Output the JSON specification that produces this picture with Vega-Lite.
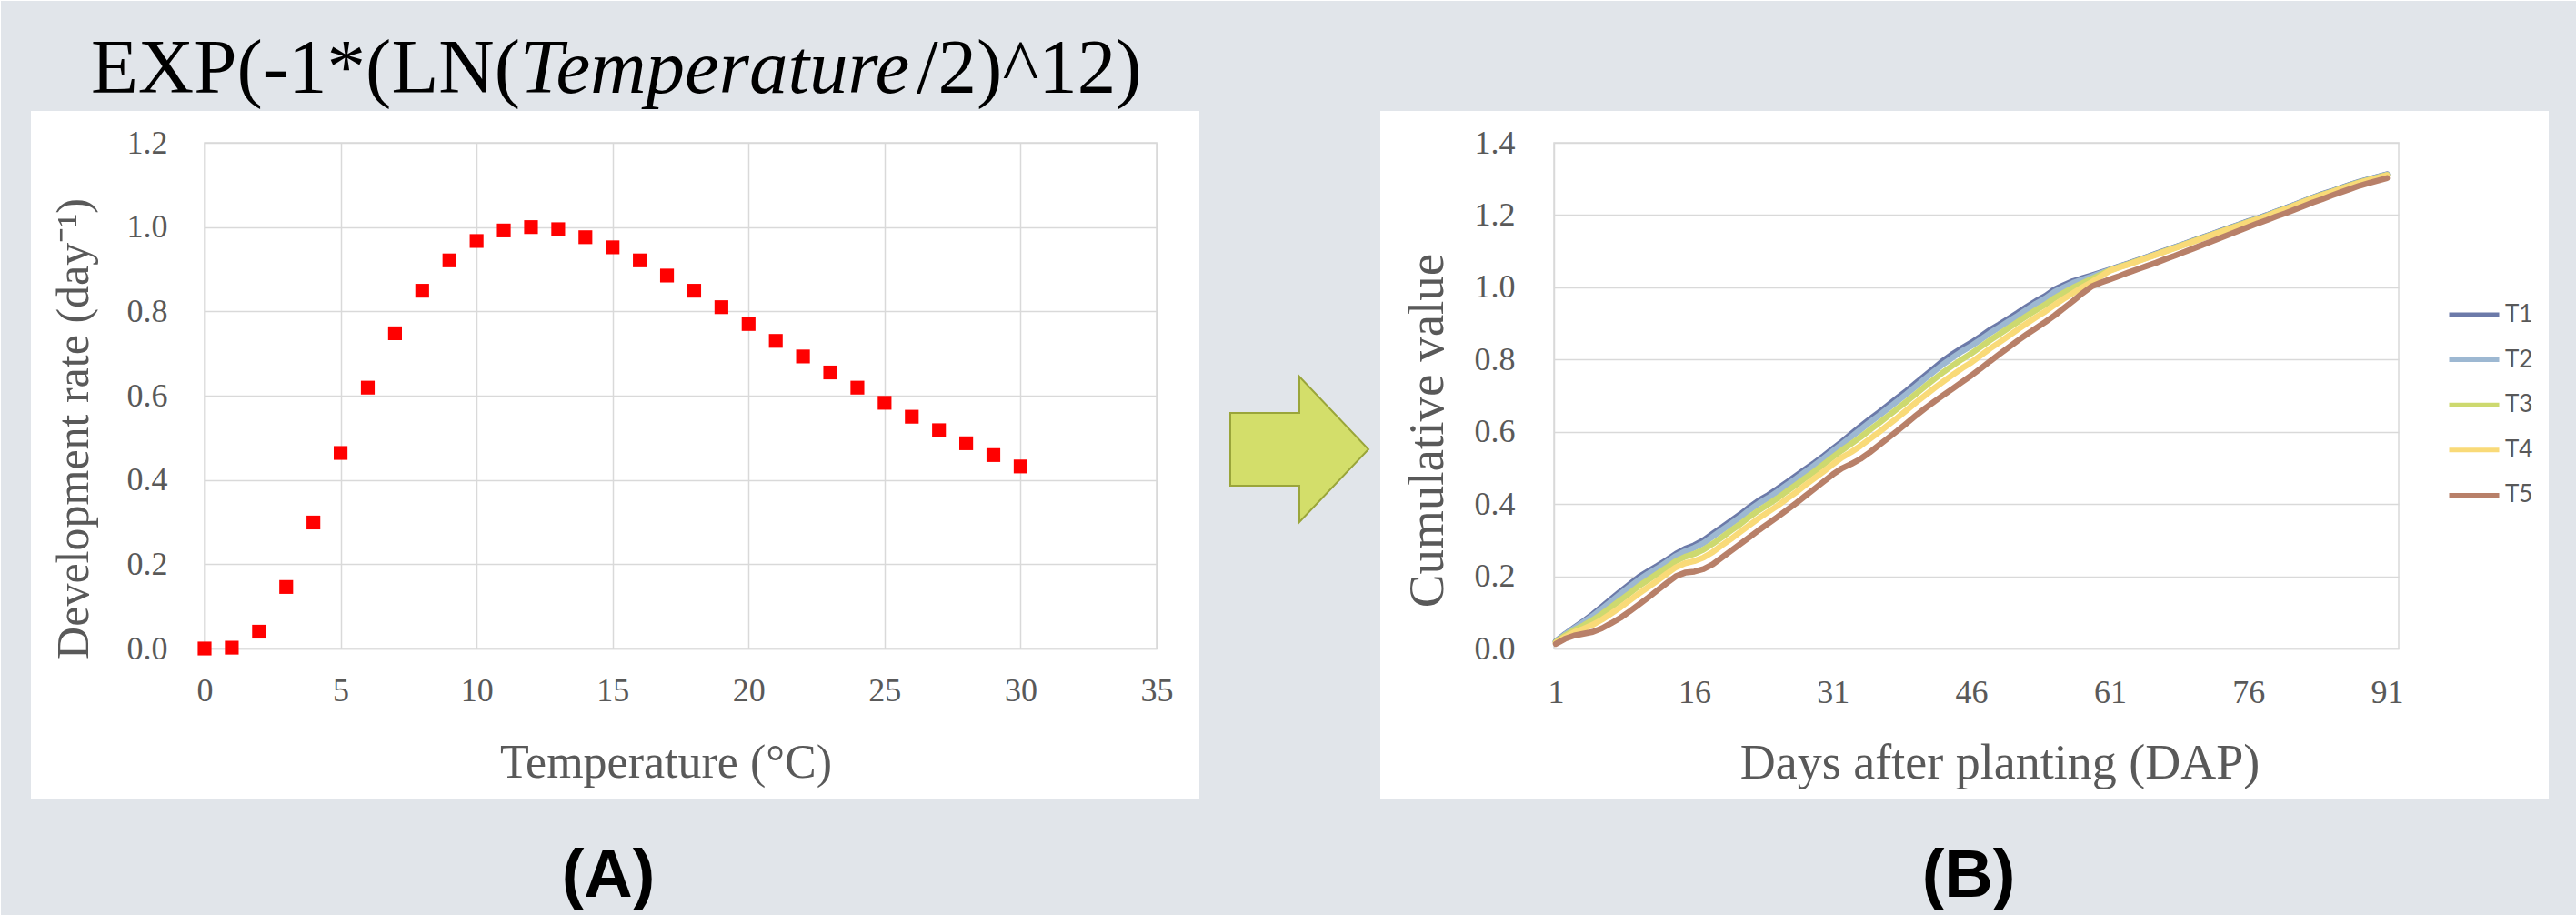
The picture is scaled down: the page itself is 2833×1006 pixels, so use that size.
{
"$schema": "https://vega.github.io/schema/vega-lite/v6.json",
"background": "#FFFFFF",
"padding": 0,
"spacing": -2,
"autosize": {"type": "pad"},
"config": {"view": {"stroke": "#D9D9D9", "strokeWidth": 1.5}, "font": "Liberation Serif"},
"datasets": {
"rate": [
{"T":0,"rate":0.000},{"T":1,"rate":0.002},{"T":2,"rate":0.040},{"T":3,"rate":0.146},{"T":4,"rate":0.299},{"T":5,"rate":0.464},{"T":6,"rate":0.619},{"T":7,"rate":0.748},{"T":8,"rate":0.849},{"T":9,"rate":0.921},{"T":10,"rate":0.967},{"T":11,"rate":0.992},{"T":12,"rate":1.000},{"T":13,"rate":0.995},{"T":14,"rate":0.976},{"T":15,"rate":0.952},{"T":16,"rate":0.921},{"T":17,"rate":0.885},{"T":18,"rate":0.849},{"T":19,"rate":0.810},{"T":20,"rate":0.770},{"T":21,"rate":0.730},{"T":22,"rate":0.693},{"T":23,"rate":0.655},{"T":24,"rate":0.619},{"T":25,"rate":0.583},{"T":26,"rate":0.550},{"T":27,"rate":0.518},{"T":28,"rate":0.487},{"T":29,"rate":0.459},{"T":30,"rate":0.432}
],
"cum": [
{"d":1,"T1":0.020,"T2":0.019,"T3":0.018,"T4":0.016,"T5":0.013},
{"d":2,"T1":0.040,"T2":0.039,"T3":0.036,"T4":0.032,"T5":0.027},
{"d":3,"T1":0.058,"T2":0.056,"T3":0.051,"T4":0.045,"T5":0.036},
{"d":4,"T1":0.076,"T2":0.073,"T3":0.064,"T4":0.055,"T5":0.041},
{"d":5,"T1":0.095,"T2":0.090,"T3":0.079,"T4":0.066,"T5":0.046},
{"d":6,"T1":0.116,"T2":0.110,"T3":0.096,"T4":0.080,"T5":0.056},
{"d":7,"T1":0.137,"T2":0.130,"T3":0.115,"T4":0.097,"T5":0.070},
{"d":8,"T1":0.158,"T2":0.151,"T3":0.134,"T4":0.114,"T5":0.085},
{"d":9,"T1":0.178,"T2":0.171,"T3":0.153,"T4":0.133,"T5":0.103},
{"d":10,"T1":0.198,"T2":0.190,"T3":0.173,"T4":0.152,"T5":0.122},
{"d":11,"T1":0.214,"T2":0.207,"T3":0.190,"T4":0.170,"T5":0.141},
{"d":12,"T1":0.229,"T2":0.222,"T3":0.207,"T4":0.188,"T5":0.161},
{"d":13,"T1":0.245,"T2":0.239,"T3":0.224,"T4":0.207,"T5":0.181},
{"d":14,"T1":0.262,"T2":0.256,"T3":0.242,"T4":0.225,"T5":0.200},
{"d":15,"T1":0.276,"T2":0.269,"T3":0.254,"T4":0.236,"T5":0.210},
{"d":16,"T1":0.286,"T2":0.279,"T3":0.262,"T4":0.242,"T5":0.213},
{"d":17,"T1":0.300,"T2":0.292,"T3":0.274,"T4":0.252,"T5":0.220},
{"d":18,"T1":0.318,"T2":0.310,"T3":0.290,"T4":0.267,"T5":0.233},
{"d":19,"T1":0.336,"T2":0.328,"T3":0.308,"T4":0.286,"T5":0.252},
{"d":20,"T1":0.354,"T2":0.346,"T3":0.327,"T4":0.304,"T5":0.271},
{"d":21,"T1":0.372,"T2":0.364,"T3":0.345,"T4":0.323,"T5":0.290},
{"d":22,"T1":0.392,"T2":0.384,"T3":0.365,"T4":0.342,"T5":0.309},
{"d":23,"T1":0.410,"T2":0.402,"T3":0.383,"T4":0.361,"T5":0.328},
{"d":24,"T1":0.425,"T2":0.417,"T3":0.399,"T4":0.378,"T5":0.346},
{"d":25,"T1":0.442,"T2":0.434,"T3":0.416,"T4":0.395,"T5":0.364},
{"d":26,"T1":0.460,"T2":0.452,"T3":0.435,"T4":0.414,"T5":0.383},
{"d":27,"T1":0.478,"T2":0.470,"T3":0.453,"T4":0.432,"T5":0.402},
{"d":28,"T1":0.496,"T2":0.489,"T3":0.472,"T4":0.452,"T5":0.422},
{"d":29,"T1":0.514,"T2":0.507,"T3":0.490,"T4":0.471,"T5":0.442},
{"d":30,"T1":0.533,"T2":0.526,"T3":0.510,"T4":0.490,"T5":0.462},
{"d":31,"T1":0.553,"T2":0.546,"T3":0.530,"T4":0.510,"T5":0.482},
{"d":32,"T1":0.573,"T2":0.566,"T3":0.549,"T4":0.529,"T5":0.499},
{"d":33,"T1":0.594,"T2":0.586,"T3":0.567,"T4":0.544,"T5":0.511},
{"d":34,"T1":0.615,"T2":0.606,"T3":0.585,"T4":0.561,"T5":0.525},
{"d":35,"T1":0.635,"T2":0.626,"T3":0.605,"T4":0.580,"T5":0.543},
{"d":36,"T1":0.654,"T2":0.645,"T3":0.624,"T4":0.599,"T5":0.563},
{"d":37,"T1":0.674,"T2":0.665,"T3":0.644,"T4":0.619,"T5":0.583},
{"d":38,"T1":0.694,"T2":0.685,"T3":0.664,"T4":0.639,"T5":0.603},
{"d":39,"T1":0.714,"T2":0.705,"T3":0.684,"T4":0.660,"T5":0.624},
{"d":40,"T1":0.735,"T2":0.726,"T3":0.705,"T4":0.681,"T5":0.645},
{"d":41,"T1":0.756,"T2":0.747,"T3":0.726,"T4":0.701,"T5":0.665},
{"d":42,"T1":0.777,"T2":0.768,"T3":0.746,"T4":0.721,"T5":0.684},
{"d":43,"T1":0.798,"T2":0.788,"T3":0.766,"T4":0.740,"T5":0.702},
{"d":44,"T1":0.816,"T2":0.806,"T3":0.784,"T4":0.758,"T5":0.720},
{"d":45,"T1":0.832,"T2":0.823,"T3":0.801,"T4":0.776,"T5":0.738},
{"d":46,"T1":0.847,"T2":0.838,"T3":0.817,"T4":0.792,"T5":0.756},
{"d":47,"T1":0.864,"T2":0.855,"T3":0.835,"T4":0.811,"T5":0.775},
{"d":48,"T1":0.882,"T2":0.873,"T3":0.853,"T4":0.830,"T5":0.795},
{"d":49,"T1":0.897,"T2":0.889,"T3":0.870,"T4":0.847,"T5":0.814},
{"d":50,"T1":0.913,"T2":0.905,"T3":0.887,"T4":0.865,"T5":0.833},
{"d":51,"T1":0.929,"T2":0.921,"T3":0.904,"T4":0.883,"T5":0.852},
{"d":52,"T1":0.946,"T2":0.938,"T3":0.921,"T4":0.900,"T5":0.870},
{"d":53,"T1":0.962,"T2":0.955,"T3":0.937,"T4":0.917,"T5":0.887},
{"d":54,"T1":0.976,"T2":0.969,"T3":0.952,"T4":0.933,"T5":0.904},
{"d":55,"T1":0.994,"T2":0.987,"T3":0.970,"T4":0.951,"T5":0.922},
{"d":56,"T1":1.006,"T2":1.000,"T3":0.985,"T4":0.968,"T5":0.942},
{"d":57,"T1":1.017,"T2":1.012,"T3":0.999,"T4":0.984,"T5":0.962},
{"d":58,"T1":1.025,"T2":1.021,"T3":1.011,"T4":1.000,"T5":0.983},
{"d":59,"T1":1.033,"T2":1.030,"T3":1.023,"T4":1.014,"T5":1.002},
{"d":60,"T1":1.041,"T2":1.039,"T3":1.035,"T4":1.030,"T5":1.013},
{"d":61,"T1":1.049,"T2":1.048,"T3":1.047,"T4":1.046,"T5":1.022},
{"d":62,"T1":1.058,"T2":1.057,"T3":1.056,"T4":1.055,"T5":1.031},
{"d":63,"T1":1.066,"T2":1.065,"T3":1.064,"T4":1.063,"T5":1.041},
{"d":64,"T1":1.075,"T2":1.074,"T3":1.073,"T4":1.072,"T5":1.050},
{"d":65,"T1":1.084,"T2":1.083,"T3":1.082,"T4":1.081,"T5":1.059},
{"d":66,"T1":1.093,"T2":1.092,"T3":1.091,"T4":1.090,"T5":1.068},
{"d":67,"T1":1.102,"T2":1.101,"T3":1.100,"T4":1.099,"T5":1.078},
{"d":68,"T1":1.111,"T2":1.110,"T3":1.109,"T4":1.108,"T5":1.087},
{"d":69,"T1":1.120,"T2":1.119,"T3":1.118,"T4":1.117,"T5":1.097},
{"d":70,"T1":1.129,"T2":1.128,"T3":1.127,"T4":1.126,"T5":1.107},
{"d":71,"T1":1.138,"T2":1.137,"T3":1.136,"T4":1.135,"T5":1.117},
{"d":72,"T1":1.147,"T2":1.146,"T3":1.145,"T4":1.144,"T5":1.127},
{"d":73,"T1":1.156,"T2":1.155,"T3":1.154,"T4":1.153,"T5":1.137},
{"d":74,"T1":1.165,"T2":1.164,"T3":1.163,"T4":1.162,"T5":1.147},
{"d":75,"T1":1.174,"T2":1.173,"T3":1.172,"T4":1.171,"T5":1.157},
{"d":76,"T1":1.183,"T2":1.182,"T3":1.181,"T4":1.180,"T5":1.167},
{"d":77,"T1":1.191,"T2":1.190,"T3":1.189,"T4":1.188,"T5":1.177},
{"d":78,"T1":1.200,"T2":1.199,"T3":1.198,"T4":1.197,"T5":1.186},
{"d":79,"T1":1.210,"T2":1.209,"T3":1.208,"T4":1.207,"T5":1.196},
{"d":80,"T1":1.219,"T2":1.218,"T3":1.217,"T4":1.216,"T5":1.205},
{"d":81,"T1":1.229,"T2":1.228,"T3":1.227,"T4":1.226,"T5":1.215},
{"d":82,"T1":1.239,"T2":1.238,"T3":1.237,"T4":1.236,"T5":1.225},
{"d":83,"T1":1.249,"T2":1.248,"T3":1.247,"T4":1.246,"T5":1.235},
{"d":84,"T1":1.258,"T2":1.257,"T3":1.256,"T4":1.255,"T5":1.244},
{"d":85,"T1":1.266,"T2":1.265,"T3":1.264,"T4":1.263,"T5":1.254},
{"d":86,"T1":1.275,"T2":1.274,"T3":1.273,"T4":1.272,"T5":1.263},
{"d":87,"T1":1.284,"T2":1.283,"T3":1.282,"T4":1.281,"T5":1.272},
{"d":88,"T1":1.292,"T2":1.291,"T3":1.290,"T4":1.289,"T5":1.281},
{"d":89,"T1":1.299,"T2":1.298,"T3":1.297,"T4":1.296,"T5":1.288},
{"d":90,"T1":1.306,"T2":1.305,"T3":1.304,"T4":1.303,"T5":1.295},
{"d":91,"T1":1.313,"T2":1.312,"T3":1.311,"T4":1.310,"T5":1.302}
]
},
"hconcat": [
{
"width": 1047,
"height": 556,
"layer": [
{
"data": {"name": "rate"},
"mark": {"type": "point", "shape": "square", "filled": true, "color": "#FF0000", "size": 230, "opacity": 1},
"encoding": {
"x": {"field": "T", "type": "quantitative", "scale": {"domain": [0, 35], "nice": false, "zero": false},
"axis": {"title": "Temperature (°C)", "values": [0,5,10,15,20,25,30,35], "grid": true, "gridColor": "#D9D9D9", "gridWidth": 1.5, "ticks": false, "tickSize": 0, "domain": true, "domainColor": "#D9D9D9", "domainWidth": 1.5, "labelFont": "Liberation Serif", "labelFontSize": 36, "labelColor": "#595959", "labelPadding": 29, "labelFlush": false, "labelOverlap": false, "titleFont": "Liberation Serif", "titleFontSize": 52, "titleFontWeight": "normal", "titleColor": "#595959", "titleX": 507, "titleY": 141, "titleBaseline": "alphabetic", "titleAlign": "center"}},
"y": {"field": "rate", "type": "quantitative", "scale": {"domain": [0, 1.2], "nice": false, "zero": false},
"axis": {"title": "Development rate (day⁻¹)", "values": [0,0.2,0.4,0.6,0.8,1.0,1.2], "format": ".1f", "grid": true, "gridColor": "#D9D9D9", "gridWidth": 1.5, "ticks": false, "tickSize": 0, "domain": true, "domainColor": "#D9D9D9", "domainWidth": 1.5, "labelFont": "Liberation Serif", "labelFontSize": 36, "labelColor": "#595959", "labelPadding": 41, "labelFlush": false, "labelOverlap": false, "titleFont": "Liberation Serif", "titleFontSize": 50, "titleFontWeight": "normal", "titleColor": "#595959", "titleX": -129, "titleY": 314, "titleAngle": 270, "titleBaseline": "alphabetic", "titleAlign": "center"}}
}
},
{"data": {"values": [{}]}, "mark": {"type": "rect", "color": "#E1E5EA", "clip": false},
"encoding": {"x": {"datum": -7.48806, "type": "quantitative"}, "x2": {"datum": 37.30659}, "y": {"datum": 1.536691, "type": "quantitative"}, "y2": {"datum": 1.27554}}},
{"data": {"values": [{}]}, "mark": {"type": "rect", "color": "#E1E5EA", "clip": false},
"encoding": {"x": {"datum": -7.48806, "type": "quantitative"}, "x2": {"datum": 37.30659}, "y": {"datum": -0.356115, "type": "quantitative"}, "y2": {"datum": -0.634532}}},
{"data": {"values": [{}]}, "mark": {"type": "rect", "color": "#E1E5EA", "clip": false},
"encoding": {"x": {"datum": -7.48806, "type": "quantitative"}, "x2": {"datum": -6.38491}, "y": {"datum": 1.27554, "type": "quantitative"}, "y2": {"datum": -0.356115}}},
{"data": {"values": [{}]}, "mark": {"type": "rect", "color": "#E1E5EA", "clip": false},
"encoding": {"x": {"datum": 36.57116, "type": "quantitative"}, "x2": {"datum": 37.30659}, "y": {"datum": 1.27554, "type": "quantitative"}, "y2": {"datum": -0.356115}}},
{"data": {"values": [{}]}, "mark": {"type": "text", "text": "EXP(-1*(LN(", "font": "Liberation Serif", "fontSize": 85, "align": "right", "baseline": "alphabetic", "color": "#000000", "clip": false},
"encoding": {"x": {"datum": 11.59983, "type": "quantitative"}, "y": {"datum": 1.318705, "type": "quantitative"}}},
{"data": {"values": [{}]}, "mark": {"type": "text", "text": "Temperature", "font": "Liberation Serif", "fontStyle": "italic", "fontSize": 85, "align": "left", "baseline": "alphabetic", "color": "#000000", "clip": false},
"encoding": {"x": {"datum": 11.59983, "type": "quantitative"}, "y": {"datum": 1.318705, "type": "quantitative"}}},
{"data": {"values": [{}]}, "mark": {"type": "text", "text": "/2)^12)", "font": "Liberation Serif", "fontSize": 85, "align": "left", "baseline": "alphabetic", "color": "#000000", "clip": false},
"encoding": {"x": {"datum": 26.17479, "type": "quantitative"}, "y": {"datum": 1.318705, "type": "quantitative"}}},
{"data": {"values": [{}]}, "mark": {"type": "text", "text": "(A)", "font": "Liberation Sans", "fontWeight": "bold", "fontSize": 74, "align": "center", "baseline": "alphabetic", "color": "#000000", "clip": false},
"encoding": {"x": {"datum": 14.84241, "type": "quantitative"}, "y": {"datum": -0.589209, "type": "quantitative"}}}
]
},
{
"width": 929,
"height": 556,
"layer": [
{
"data": {"name": "cum"},
"transform": [{"fold": ["T1", "T2", "T3", "T4", "T5"], "as": ["series", "value"]}],
"mark": {"type": "line", "strokeWidth": 6.5, "strokeCap": "round", "strokeJoin": "round"},
"encoding": {
"x": {"field": "d", "type": "quantitative", "scale": {"domain": [0.8, 92.27], "nice": false, "zero": false},
"axis": {"title": "Days after planting (DAP)", "values": [1,16,31,46,61,76,91], "grid": false, "ticks": false, "tickSize": 0, "domain": true, "domainColor": "#D9D9D9", "domainWidth": 1.5, "labelFont": "Liberation Serif", "labelFontSize": 36, "labelColor": "#595959", "labelPadding": 31, "labelFlush": false, "labelOverlap": false, "titleFont": "Liberation Serif", "titleFontSize": 54, "titleFontWeight": "normal", "titleColor": "#595959", "titleX": 490, "titleY": 142, "titleBaseline": "alphabetic", "titleAlign": "center"}},
"y": {"field": "value", "type": "quantitative", "scale": {"domain": [0, 1.4], "nice": false, "zero": false},
"axis": {"title": "Cumulative value", "values": [0,0.2,0.4,0.6,0.8,1.0,1.2,1.4], "format": ".1f", "grid": true, "gridColor": "#D9D9D9", "gridWidth": 1.5, "ticks": false, "tickSize": 0, "domain": true, "domainColor": "#D9D9D9", "domainWidth": 1.5, "labelFont": "Liberation Serif", "labelFontSize": 36, "labelColor": "#595959", "labelPadding": 43, "labelFlush": false, "labelOverlap": false, "titleFont": "Liberation Serif", "titleFontSize": 55, "titleFontWeight": "normal", "titleColor": "#595959", "titleX": -123, "titleY": 316, "titleAngle": 270, "titleBaseline": "alphabetic", "titleAlign": "center"}},
"color": {"field": "series", "type": "nominal", "scale": {"domain": ["T1", "T2", "T3", "T4", "T5"], "range": ["#6C7AA9", "#9DB8D2", "#CDD96F", "#F9DA78", "#B88069"]},
"legend": {"title": null, "orient": "none", "legendX": 2466, "legendY": 159, "direction": "vertical", "symbolType": "stroke", "symbolSize": 3025, "symbolStrokeWidth": 5, "labelFont": "Lato", "labelFontSize": 26, "labelColor": "#595959", "labelOffset": 4, "rowPadding": 6.6, "padding": 0}}
}
},
{"data": {"values": [{}]}, "mark": {"type": "rect", "color": "#E1E5EA", "clip": false},
"encoding": {"x": {"datum": -35.4335, "type": "quantitative"}, "x2": {"datum": 111.9}, "y": {"datum": 1.792806, "type": "quantitative"}, "y2": {"datum": 1.488129}}},
{"data": {"values": [{}]}, "mark": {"type": "rect", "color": "#E1E5EA", "clip": false},
"encoding": {"x": {"datum": -35.4335, "type": "quantitative"}, "x2": {"datum": 111.9}, "y": {"datum": -0.415468, "type": "quantitative"}, "y2": {"datum": -0.740288}}},
{"data": {"values": [{}]}, "mark": {"type": "rect", "color": "#E1E5EA", "clip": false},
"encoding": {"x": {"datum": -35.4335, "type": "quantitative"}, "x2": {"datum": -18.006}, "y": {"datum": 1.488129, "type": "quantitative"}, "y2": {"datum": -0.415468}}},
{"data": {"values": [{}]}, "mark": {"type": "rect", "color": "#E1E5EA", "clip": false},
"encoding": {"x": {"datum": 108.5161, "type": "quantitative"}, "x2": {"datum": 111.9}, "y": {"datum": 1.488129, "type": "quantitative"}, "y2": {"datum": -0.415468}}},
{"data": {"values": [{}]}, "mark": {"type": "point", "shape": "M-0.95,-0.5L0,-0.5L0,-1L0.95,0L0,1L0,0.5L-0.95,0.5Z", "filled": true, "fill": "#D3DE6A", "stroke": "#9AA53A", "strokeWidth": 2, "size": 25600, "opacity": 1, "clip": false},
"encoding": {"x": {"datum": -26.7687, "type": "quantitative"}, "y": {"datum": 0.551439, "type": "quantitative"}}},
{"data": {"values": [{}]}, "mark": {"type": "text", "text": "(B)", "font": "Liberation Sans", "fontWeight": "bold", "fontSize": 74, "align": "center", "baseline": "alphabetic", "color": "#000000", "clip": false},
"encoding": {"x": {"datum": 45.6981, "type": "quantitative"}, "y": {"datum": -0.68741, "type": "quantitative"}}}
]
}
]
}
